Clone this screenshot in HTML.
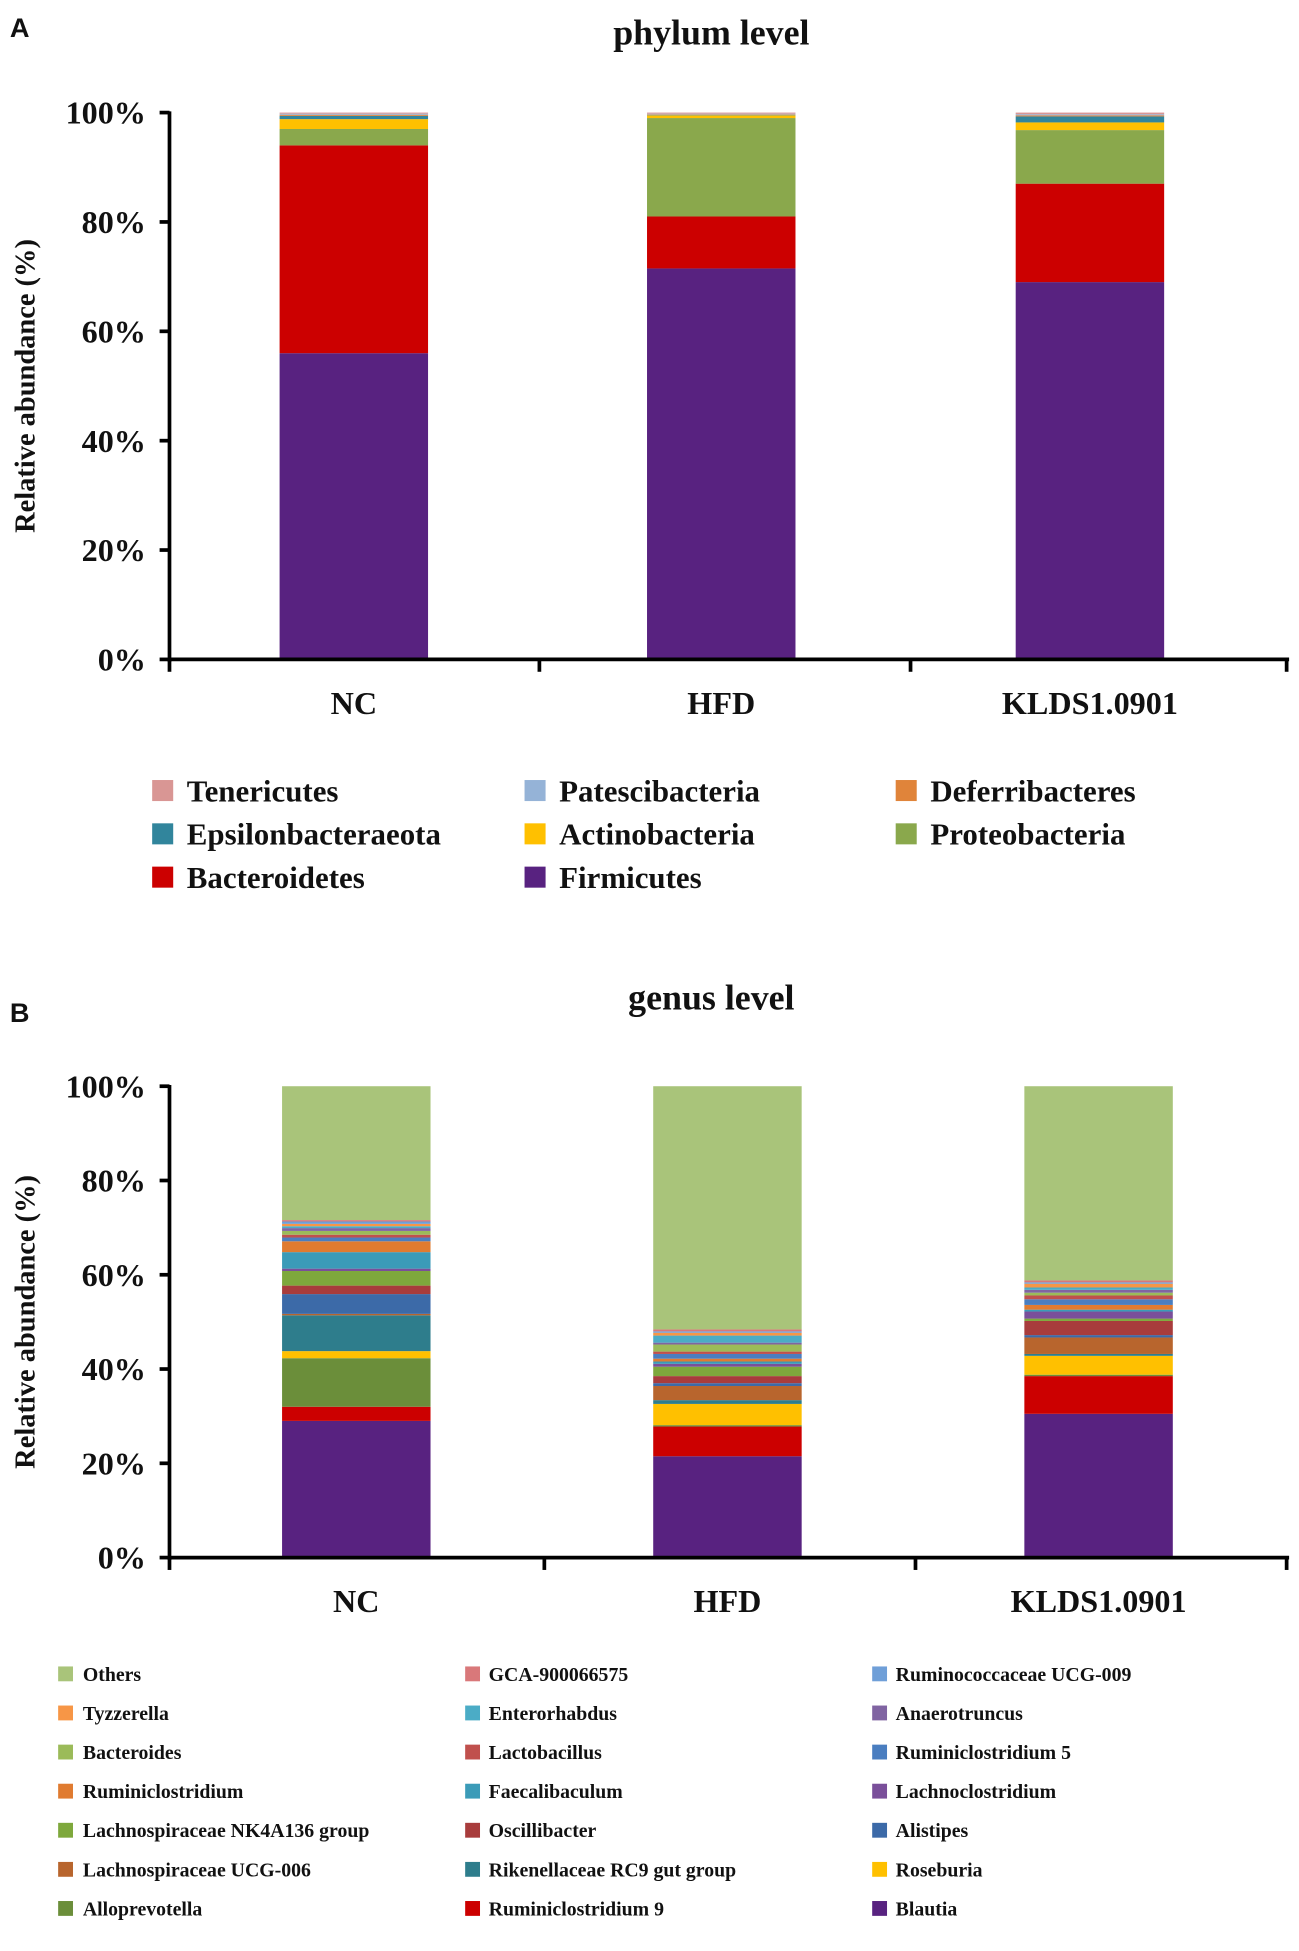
<!DOCTYPE html>
<html><head><meta charset="utf-8"><style>
html,body{margin:0;padding:0;background:#fff;}
svg{display:block;}
text{font-family:"Liberation Serif",serif;font-weight:bold;fill:#111;}
</style></head><body>
<svg id="chart" width="1299" height="1951" viewBox="0 0 1050 1577" preserveAspectRatio="none" xmlns="http://www.w3.org/2000/svg"></svg>
<script>
const groups = ["NC","HFD","KLDS1.0901"];
// phylum, bottom to top
const phylaNames = ["Firmicutes","Bacteroidetes","Proteobacteria","Actinobacteria","Epsilonbacteraeota","Deferribacteres","Patescibacteria","Tenericutes"];
const phylaColors = ["#582280","#cc0000","#8aa84c","#ffc000","#31859c","#e0843a","#95b3d7","#d99694"];
const phylaNC   = [56,38,3,1.8,0.6,0.2,0.2,0.2];
const phylaHFD  = [71.5,9.5,18,0.5,0.1,0.1,0.1,0.2];
const phylaKLDS = [69,18,9.8,1.4,1.1,0.2,0.2,0.3];
const phylaLegendOrder = ["Tenericutes","Patescibacteria","Deferribacteres","Epsilonbacteraeota","Actinobacteria","Proteobacteria","Bacteroidetes","Firmicutes"];
// genus, bottom to top
const genusNames = ["Blautia","Ruminiclostridium 9","Alloprevotella","Roseburia","Rikenellaceae RC9 gut group","Lachnospiraceae UCG-006","Alistipes","Oscillibacter","Lachnospiraceae NK4A136 group","Lachnoclostridium","Faecalibaculum","Ruminiclostridium","Ruminiclostridium 5","Lactobacillus","Bacteroides","Anaerotruncus","Enterorhabdus","Tyzzerella","Ruminococcaceae UCG-009","GCA-900066575","Others"];
const genusColors = ["#582280","#cc0000","#6b8e3a","#ffc000","#2e7d8c","#b8652d","#3c6aa8","#a83c3c","#7ea83c","#7a4f9a","#3b9bb8","#e07b30","#4a7ec0","#c0504d","#9bbb59","#8064a2","#4bacc6","#f79646","#6f9fd8","#d9787a","#a9c47a"];
const genusNC   = [29,3,10.3,1.5,7.6,0.3,4.2,1.8,3.1,0.5,3.5,2.3,0.8,0.6,0.8,0.6,0.4,0.5,0.5,0.3,28.4];
const genusHFD  = [21.5,6.3,0.3,4.5,0.8,3,0.6,1.5,2,0.6,0.5,0.6,1,0.5,1.5,0.4,1.5,0.6,0.3,0.4,51.6];
const genusKLDS = [30.5,8,0.3,4,0.4,3.5,0.5,3,0.5,1.5,0.4,1,1.2,0.8,0.6,0.6,0.5,0.8,0.3,0.4,41.2];
const genusLegendOrder = ["Others","GCA-900066575","Ruminococcaceae UCG-009","Tyzzerella","Enterorhabdus","Anaerotruncus","Bacteroides","Lactobacillus","Ruminiclostridium 5","Ruminiclostridium","Faecalibaculum","Lachnoclostridium","Lachnospiraceae NK4A136 group","Oscillibacter","Alistipes","Lachnospiraceae UCG-006","Rikenellaceae RC9 gut group","Roseburia","Alloprevotella","Ruminiclostridium 9","Blautia"];
const yTicks = [0,20,40,60,80,100];

const NS="http://www.w3.org/2000/svg";
const svg=document.getElementById('chart');
function mk(tag,attrs,parent,txt){const e=document.createElementNS(NS,tag);for(const k in attrs)e.setAttribute(k,attrs[k]);if(txt!==undefined)e.textContent=txt;(parent||svg).appendChild(e);return e;}

function panel(cfg){
  const g=mk('g',{});
  
  
  const y=v=>cfg.y0-(cfg.y0-cfg.y100)*v/100;
  const lbl=mk('text',{x:8,y:cfg.letterY,'font-size':22,style:'font-family:"Liberation Sans",sans-serif'},g,cfg.letter);
  
  const t=mk('text',{x:575,y:cfg.titleY,'font-size':29,'text-anchor':'middle','xml:space':'preserve'},g,cfg.title);
  
  const yt=mk('text',{x:0,y:0,'font-size':23,'text-anchor':'middle',transform:`translate(28,${(cfg.y0+cfg.y100)/2}) rotate(-90)`},g,'Relative abundance (%)');
  
  // bars
  cfg.series.forEach((vals,gi)=>{
    let acc=0;
    vals.forEach((v,si)=>{
      const r=mk('rect',{x:cfg.barX[gi],y:y(acc+v),width:cfg.barW,height:y(acc)-y(acc+v),fill:cfg.colors[si]},g);
      
      
      acc+=v;
    });
  });
  // axes
  const ya=mk('line',{x1:137,y1:cfg.y100-1,x2:137,y2:cfg.y0+2,stroke:'#000','stroke-width':3},g);
  
  const xa=mk('line',{x1:136,y1:cfg.y0,x2:1042,y2:cfg.y0,stroke:'#000','stroke-width':3},g);
  
  cfg.xTicks.forEach(x=>{mk('line',{x1:x,y1:cfg.y0,x2:x,y2:cfg.y0+10,stroke:'#000','stroke-width':3},g);});
  yTicks.forEach(v=>{
    mk('line',{x1:129,y1:y(v),x2:137,y2:y(v),stroke:'#000','stroke-width':3},g);
    const tl=mk('text',{x:118,y:y(v)+9,'font-size':26,'text-anchor':'end'},g,v+'%');
    
  });
  groups.forEach((n,gi)=>{
    const cl=mk('text',{x:cfg.barX[gi]+cfg.barW/2,y:cfg.y0+44,'font-size':26,'text-anchor':'middle'},g,n);
    
  });
  // legend
  cfg.legend.forEach((n,i)=>{
    const col=i%3,row=Math.floor(i/3);
    const lg=mk('g',{},g);
    
    const ly=cfg.legY+row*cfg.legDy;
    const c=cfg.colors[cfg.names.indexOf(n)];
    mk('rect',{x:cfg.legSwX[col],y:ly-cfg.sw/2,width:cfg.sw,height:cfg.sw,fill:c},lg);
    mk('text',{x:cfg.legTxX[col],y:ly+cfg.fs*0.35,'font-size':cfg.fs},lg,n);
  });
}
panel({name:'phylum-panel',letter:'A',letterY:30,title:'phylum   level',titleY:36,y0:533,y100:91,
  barX:[226,523,821],barW:120,xTicks:[137,436,736,1040],
  series:[phylaNC,phylaHFD,phylaKLDS],names:phylaNames,colors:phylaColors,
  legend:phylaLegendOrder,legY:639,legDy:35,legSwX:[123,424,724],legTxX:[151,452,752],sw:17,fs:25});
panel({name:'genus-panel',letter:'B',letterY:826,title:'genus   level',titleY:816,y0:1259,y100:878,
  barX:[228,528,828],barW:120,xTicks:[137,440,740,1040],
  series:[genusNC,genusHFD,genusKLDS],names:genusNames,colors:genusColors,
  legend:genusLegendOrder,legY:1353,legDy:31.6,legSwX:[47,376,705],legTxX:[67,395,724],sw:12,fs:16});
</script>
</body></html>
